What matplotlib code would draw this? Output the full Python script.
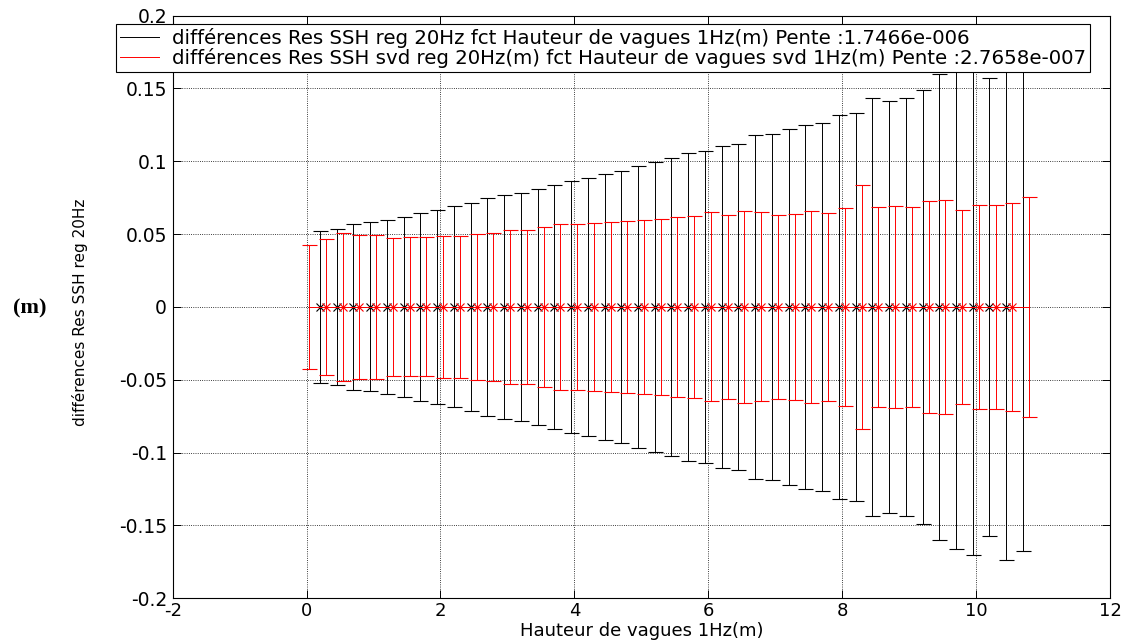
import numpy as np
import matplotlib
matplotlib.use('Agg')
import matplotlib.pyplot as plt
from matplotlib.lines import Line2D

# hauteur de vagues (x) and half-width of the error bars (m)
x_reg = 0.2 + 0.25 * np.arange(43)
err_reg = [0.052, 0.0535, 0.0567, 0.058, 0.060, 0.062, 0.0643, 0.0665, 0.069, 0.0713,
           0.0746, 0.0767, 0.0785, 0.081, 0.0838, 0.0865, 0.0887, 0.0913, 0.0935, 0.0968,
           0.0995, 0.1026, 0.1055, 0.1072, 0.1105, 0.1120, 0.1179, 0.1185, 0.1222, 0.1250,
           0.1265, 0.1318, 0.1335, 0.1438, 0.1416, 0.1435, 0.1492, 0.1600, 0.1661, 0.1702,
           0.1574, 0.1740, 0.1672]
y_reg = np.zeros(len(x_reg))

x_svd = 0.04 + 0.25 * np.arange(44)
err_svd = [0.0427, 0.0466, 0.0508, 0.0493, 0.0493, 0.0472, 0.0477, 0.0477, 0.0487, 0.0487,
           0.0502, 0.0508, 0.0531, 0.0531, 0.0551, 0.0568, 0.0568, 0.0577, 0.0583, 0.0590,
           0.0596, 0.0607, 0.0618, 0.0623, 0.0649, 0.0632, 0.0656, 0.0649, 0.0632, 0.0636,
           0.0656, 0.0643, 0.0677, 0.0837, 0.0686, 0.0692, 0.0686, 0.0730, 0.0736, 0.0665,
           0.0703, 0.0703, 0.0713, 0.0758]
y_svd = np.zeros(len(x_svd))

label_reg = 'différences Res SSH reg 20Hz fct Hauteur de vagues 1Hz(m) Pente :1.7466e-006'
label_svd = 'différences Res SSH svd reg 20Hz(m) fct Hauteur de vagues svd 1Hz(m) Pente :2.7658e-007'

xticks = [-2, 0, 2, 4, 6, 8, 10, 12]
xticklabels = ['-2', '0', '2', '4', '6', '8', '10', '12']
yticks = [-0.2, -0.15, -0.1, -0.05, 0, 0.05, 0.1, 0.15, 0.2]
yticklabels = ['-0.2', '-0.15', '-0.1', '-0.05', '0', '0.05', '0.1', '0.15', '0.2']

plt.rcParams['font.family'] = ['DejaVu Sans']

fig = plt.figure(figsize=(11.22, 6.44), dpi=100)
ax = fig.add_axes([0.1539, 0.0710, 0.8354, 0.9047])

# black series then red on top
ax.errorbar(x_reg, y_reg, yerr=err_reg, color='black', lw=0.7, capsize=5.4,
            capthick=0.7, marker='x', ms=5.5, mew=0.8, markevery=list(range(0, 42)))
ax.errorbar(x_svd, y_svd, yerr=err_svd, color='red', lw=0.7, capsize=5.4,
            capthick=0.7, marker='x', ms=5.5, mew=0.8, markevery=list(range(1, 43)))

ax.set_xlim(-2, 12)
ax.set_ylim(-0.2, 0.2)
ax.set_xticks(xticks)
ax.set_xticklabels(xticklabels)
ax.set_yticks(yticks)
ax.set_yticklabels(yticklabels)
ax.tick_params(direction='in', length=6, width=0.7, top=True, right=True,
               labelsize=13.5, pad=4)
ax.tick_params(axis='x', pad=3, labelsize=13)
ax.grid(True, color='black', linestyle=':', linewidth=0.6)
for s in ax.spines.values():
    s.set_linewidth(0.8)

ax.set_xlabel('Hauteur de vagues 1Hz(m)', fontsize=13)
ax.xaxis.set_label_coords(0.5, -0.041)
ax.set_ylabel('différences Res SSH reg 20Hz', fontsize=11)
ax.yaxis.set_label_coords(-0.09, 0.49)

fig.text(30 / 1122, 1 - 308 / 644, '(m)', family='Liberation Serif', weight='bold',
         fontsize=16, ha='center', va='center')

handles = [Line2D([], [], color='black', lw=0.7), Line2D([], [], color='red', lw=0.7)]
leg = fig.legend(handles, [label_reg, label_svd], loc='upper left',
                 bbox_to_anchor=(116 / 1122, 1 - 24 / 644), borderaxespad=0,
                 fontsize=14.2, handlelength=2.0, handletextpad=0.66, labelspacing=0.0,
                 borderpad=0.2, fancybox=False, framealpha=1, edgecolor='black')
leg.get_frame().set_linewidth(0.8)

fig.savefig('out.png', dpi=100)
